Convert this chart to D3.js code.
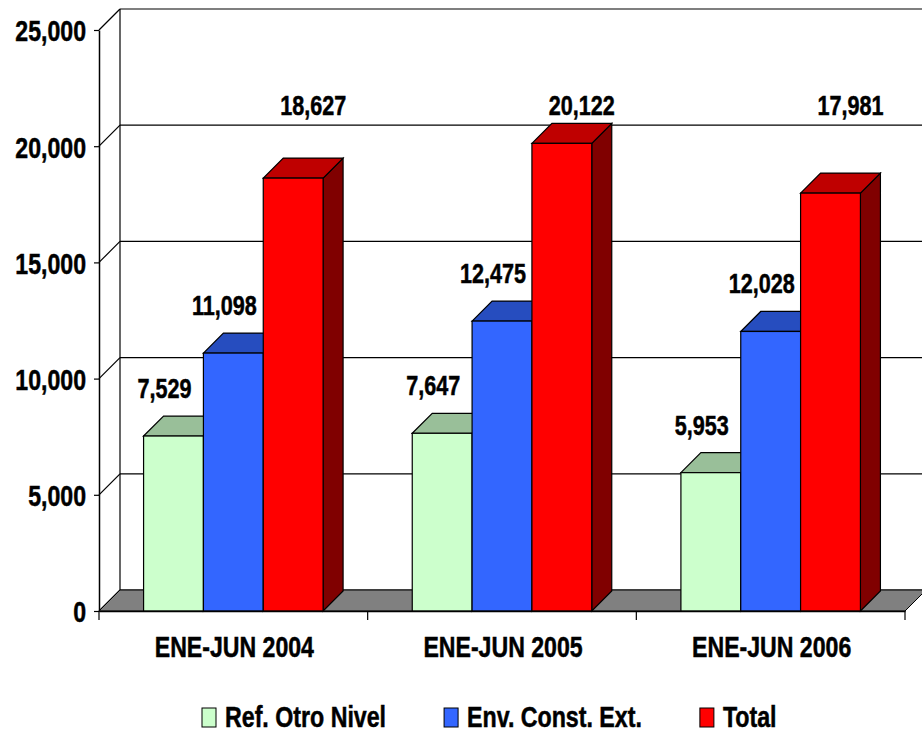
<!DOCTYPE html>
<html>
<head>
<meta charset="utf-8">
<script src="https://cdn.jsdelivr.net/npm/d3@7.9.0/dist/d3.min.js"></script>
<style>
  html, body { margin: 0; padding: 0; background: #fff; }
  svg { display: block; }
  text { font-family: 'Liberation Sans', Arial, sans-serif; font-weight: bold; fill: #000; stroke: #000; stroke-width: 0.5; }
  /* no narrow face installed, so squeeze the regular one */
  text.narrow { transform-box: fill-box; transform: scaleX(0.77); transform-origin: center; }
  text.narrow.value { transform: scaleX(0.8); }
  text.narrow.legend { transform: scaleX(0.8); }
  text.narrow.end { transform-origin: right; }
  text.narrow.start { transform-origin: left; }
</style>
</head>
<body>
<svg id="chart" width="922" height="733"></svg>
<script>
const categories = ['ENE-JUN 2004', 'ENE-JUN 2005', 'ENE-JUN 2006'];
const seriesNames = ['Ref. Otro Nivel', 'Env. Const. Ext.', 'Total'];
const refOtroNivel = [7529, 7647, 5953];
const envConstExt = [11098, 12475, 12028];
const total = [18627, 20122, 17981];
const yTicks = [0, 5000, 10000, 15000, 20000, 25000];

const seriesValues = [refOtroNivel, envConstExt, total];
const faceColors = ['#ccffcc', '#3366ff', '#ff0000'];
// top face is 75% and side face 50% of the front colour, like the old excel 3d look
const shade = (c, k) => d3.rgb(c.r * k, c.g * k, c.b * k).formatHex();
const legendSqueeze = 0.8;

const svg = d3.select('#chart');

const wallDepth = 21;
const barDepth = 20;
const left = 99;
const right = 905;

const y = d3.scaleLinear().domain([0, 25000]).range([611, 30]);
const x0 = d3.scaleBand().domain(categories).range([left, right]);
const x1 = d3.scaleBand().domain(seriesNames).range([0, x0.bandwidth()])
  .paddingInner(0).paddingOuter(0.745);

// side wall + back wall gridlines
const walls = svg.append('g');
walls.selectAll('line.grid')
  .data(yTicks)
  .join('line')
  .attr('x1', left + wallDepth)
  .attr('x2', right + wallDepth)
  .attr('y1', (d) => y(d) - wallDepth)
  .attr('y2', (d) => y(d) - wallDepth)
  .attr('stroke', '#000')
  .attr('stroke-width', 1.2);

walls.selectAll('line.diag')
  .data(yTicks)
  .join('line')
  .attr('x1', left)
  .attr('x2', left + wallDepth)
  .attr('y1', (d) => y(d))
  .attr('y2', (d) => y(d) - wallDepth)
  .attr('stroke', '#000')
  .attr('stroke-width', 1.2);

walls.append('line')
  .attr('x1', left + wallDepth).attr('x2', left + wallDepth)
  .attr('y1', y(25000) - wallDepth).attr('y2', y(0) - wallDepth)
  .attr('stroke', '#000').attr('stroke-width', 1.2);

// floor
svg.append('path')
  .attr('d', `M${left},${y(0)}L${right},${y(0)}L${right + wallDepth},${y(0) - wallDepth}L${left + wallDepth},${y(0) - wallDepth}Z`)
  .attr('fill', '#808080')
  .attr('stroke', '#000')
  .attr('stroke-width', 1);

// bars, group by group so the red side face sits on top of the next floor
const bars = [];
categories.forEach((cat, i) => {
  seriesNames.forEach((name, s) => {
    bars.push({ cat, name, s, value: seriesValues[s][i] });
  });
});

const barG = svg.append('g')
  .selectAll('g')
  .data(bars)
  .join('g');

barG.each(function (d) {
  const g = d3.select(this);
  const x = x0(d.cat) + x1(d.name);
  const w = x1.bandwidth();
  const top = y(d.value);
  const bottom = y(0);
  const base = d3.rgb(faceColors[d.s]);

  g.append('path')
    .attr('d', `M${x + w},${top}L${x + w + barDepth},${top - barDepth}L${x + w + barDepth},${bottom - barDepth}L${x + w},${bottom}Z`)
    .attr('fill', shade(base, 0.5))
    .attr('stroke', '#000')
    .attr('stroke-width', 1.2);

  g.append('path')
    .attr('d', `M${x},${top}L${x + barDepth},${top - barDepth}L${x + w + barDepth},${top - barDepth}L${x + w},${top}Z`)
    .attr('fill', shade(base, 0.75))
    .attr('stroke', '#000')
    .attr('stroke-width', 1.2);

  g.append('rect')
    .attr('x', x)
    .attr('y', top)
    .attr('width', w)
    .attr('height', bottom - top)
    .attr('fill', faceColors[d.s])
    .attr('stroke', '#000')
    .attr('stroke-width', 1.2);
});

// value labels (the totals were moved up to a common row in the original)
const totalLabelLevel = 21350;
svg.append('g')
  .selectAll('text')
  .data(bars)
  .join('text')
  .attr('class', 'narrow value')
  .attr('text-anchor', 'middle')
  .attr('font-size', 27)
  .attr('x', (d) => {
    const cx = x0(d.cat) + x1(d.name) + x1.bandwidth() / 2;
    return d.s === 2 ? cx + barDepth : cx - 9;
  })
  .attr('y', (d) => d.s === 2 ? y(totalLabelLevel) : y(d.value) - barDepth - 18)
  .text((d) => d3.format(',')(d.value));

// y axis
const yAxis = svg.append('g')
  .attr('transform', `translate(${left},0)`)
  .call(d3.axisLeft(y).tickValues(yTicks).tickSize(5).tickSizeOuter(0)
    .tickPadding(8).tickFormat(d3.format(',')));
yAxis.select('.domain').attr('stroke', '#000').attr('stroke-width', 1.5);
yAxis.selectAll('.tick line').attr('stroke', '#000').attr('stroke-width', 1.2);
yAxis.selectAll('.tick text')
  .attr('class', 'narrow end')
  .attr('font-size', 30)
  .attr('dy', '0.36em');
yAxis.attr('font-family', null);

// x axis
const xAxis = svg.append('g')
  .attr('transform', `translate(0,${y(0)})`)
  .call(d3.axisBottom(x0).tickSize(0).tickPadding(25));
xAxis.select('.domain').attr('stroke', '#000').attr('stroke-width', 1.5);
xAxis.selectAll('.tick text')
  .attr('class', 'narrow')
  .attr('font-size', 30)
  .attr('dx', 1);
xAxis.attr('font-family', null);

const boundaries = categories.map((c) => x0(c)).concat([right]);
svg.append('g')
  .selectAll('line')
  .data(boundaries)
  .join('line')
  .attr('x1', (d) => d)
  .attr('x2', (d) => d)
  .attr('y1', y(0))
  .attr('y2', y(0) + 9)
  .attr('stroke', '#000')
  .attr('stroke-width', 1.2);

// legend
const legend = svg.append('g').attr('transform', 'translate(202,0)');
let lx = 0;
seriesNames.forEach((name, s) => {
  legend.append('rect')
    .attr('x', lx)
    .attr('y', 708)
    .attr('width', 14)
    .attr('height', 19)
    .attr('fill', faceColors[s])
    .attr('stroke', '#000')
    .attr('stroke-width', 1);
  const t = legend.append('text')
    .attr('class', 'narrow start legend')
    .attr('x', lx + 23)
    .attr('y', 727)
    .attr('font-size', 29)
    .text(name);
  lx += 23 + t.node().getComputedTextLength() * legendSqueeze + 58;
});
</script>
</body>
</html>
